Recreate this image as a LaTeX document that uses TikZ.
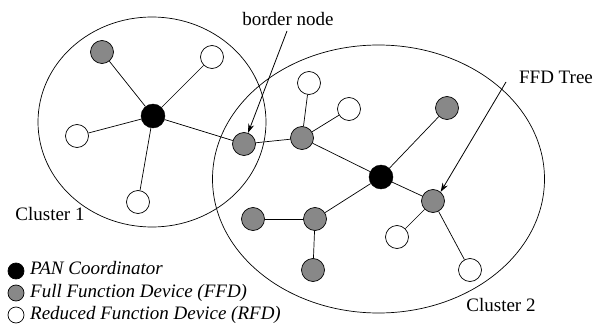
\documentclass[tikz,border=0pt]{standalone}
\usepackage{fontspec}
\setmainfont{Liberation Serif}
\usetikzlibrary{arrows.meta}
\definecolor{ffd}{RGB}{136,136,136}
\tikzset{
  pan/.style={circle,draw=black,fill=black,minimum size=24pt,inner sep=0pt},
  ffdn/.style={circle,draw=black,fill=ffd,minimum size=23pt,inner sep=0pt,line width=0.7pt},
  rfdn/.style={circle,draw=black,fill=white,minimum size=23pt,inner sep=0pt,line width=0.7pt},
  link/.style={draw=black,line width=0.7pt},
  cluster/.style={draw=black,line width=0.7pt},
  callout/.style={draw=black,line width=0.8pt,-{Stealth[length=9pt,width=6pt]}},
  lbl/.style={font=\fontsize{19}{21}\selectfont,inner sep=0pt,anchor=base},
  leg/.style={font=\fontsize{19}{21}\selectfont\itshape,inner sep=0pt,anchor=base west},
  legdot/.style={circle,draw=black,line width=0.7pt,minimum size=16pt,inner sep=0pt}
}
\begin{document}
\begin{tikzpicture}[x=1pt,y=-1pt]
\useasboundingbox (0,0) rectangle (606,324);
% clusters
\draw[cluster] (152,122) ellipse [x radius=114, y radius=105];
\draw[cluster] (378.5,179) ellipse [x radius=166, y radius=134];
% cluster 1 nodes
\node[pan] (p1) at (153,116) {};
\node[ffdn] (g1) at (102,52) {};
\node[rfdn] (w1) at (212,57) {};
\node[rfdn] (w2) at (77,136) {};
\node[rfdn] (w3) at (138,202) {};
\node[ffdn] (bn) at (244,144) {};
% cluster 2 nodes
\node[ffdn] (ga) at (302,138) {};
\node[rfdn] (w4) at (309,83) {};
\node[rfdn] (w5) at (349,109) {};
\node[pan] (p2) at (381,177) {};
\node[ffdn] (gt) at (447,108) {};
\node[ffdn] (gf) at (433,201) {};
\node[rfdn] (w6) at (397,237) {};
\node[rfdn] (w7) at (470,270) {};
\node[ffdn] (gb) at (315,219) {};
\node[ffdn] (gl) at (253,219) {};
\node[ffdn] (gd) at (313,270) {};
% links
\draw[link] (p1) -- (g1);
\draw[link] (p1) -- (w1);
\draw[link] (p1) -- (w2);
\draw[link] (p1) -- (w3);
\draw[link] (p1) -- (bn);
\draw[link] (bn) -- (ga);
\draw[link] (ga) -- (w4);
\draw[link] (ga) -- (w5);
\draw[link] (ga) -- (p2);
\draw[link] (p2) -- (gt);
\draw[link] (p2) -- (gf);
\draw[link] (p2) -- (gb);
\draw[link] (gf) -- (w6);
\draw[link] (gf) -- (w7);
\draw[link] (gb) -- (gl);
\draw[link] (gb) -- (gd);
% labels
\node[lbl] (tbn) at (288,25) {border node};
\node[lbl] (tft) at (556,83) {FFD Tree};
\node[lbl] (tc1) at (50,220) {Cluster 1};
\node[lbl] (tc2) at (501,311) {Cluster 2};
\coordinate (abn) at (287,31);
\coordinate (aft) at (506,82);
\draw[callout] (abn) -- (bn.70);
\draw[callout] (aft) -- (gf.50);
% legend
\node[legdot,fill=black] (l1) at (16,271) {};
\node[legdot,fill=ffd] (l2) at (16,293) {};
\node[legdot,fill=white] (l3) at (16,315) {};
\node[leg] (t1) at (30,274) {PAN Coordinator};
\node[leg] (t2) at (30,297) {Full Function Device (FFD)};
\node[leg] (t3) at (30,319) {Reduced Function Device (RFD)};
\end{tikzpicture}
\end{document}
